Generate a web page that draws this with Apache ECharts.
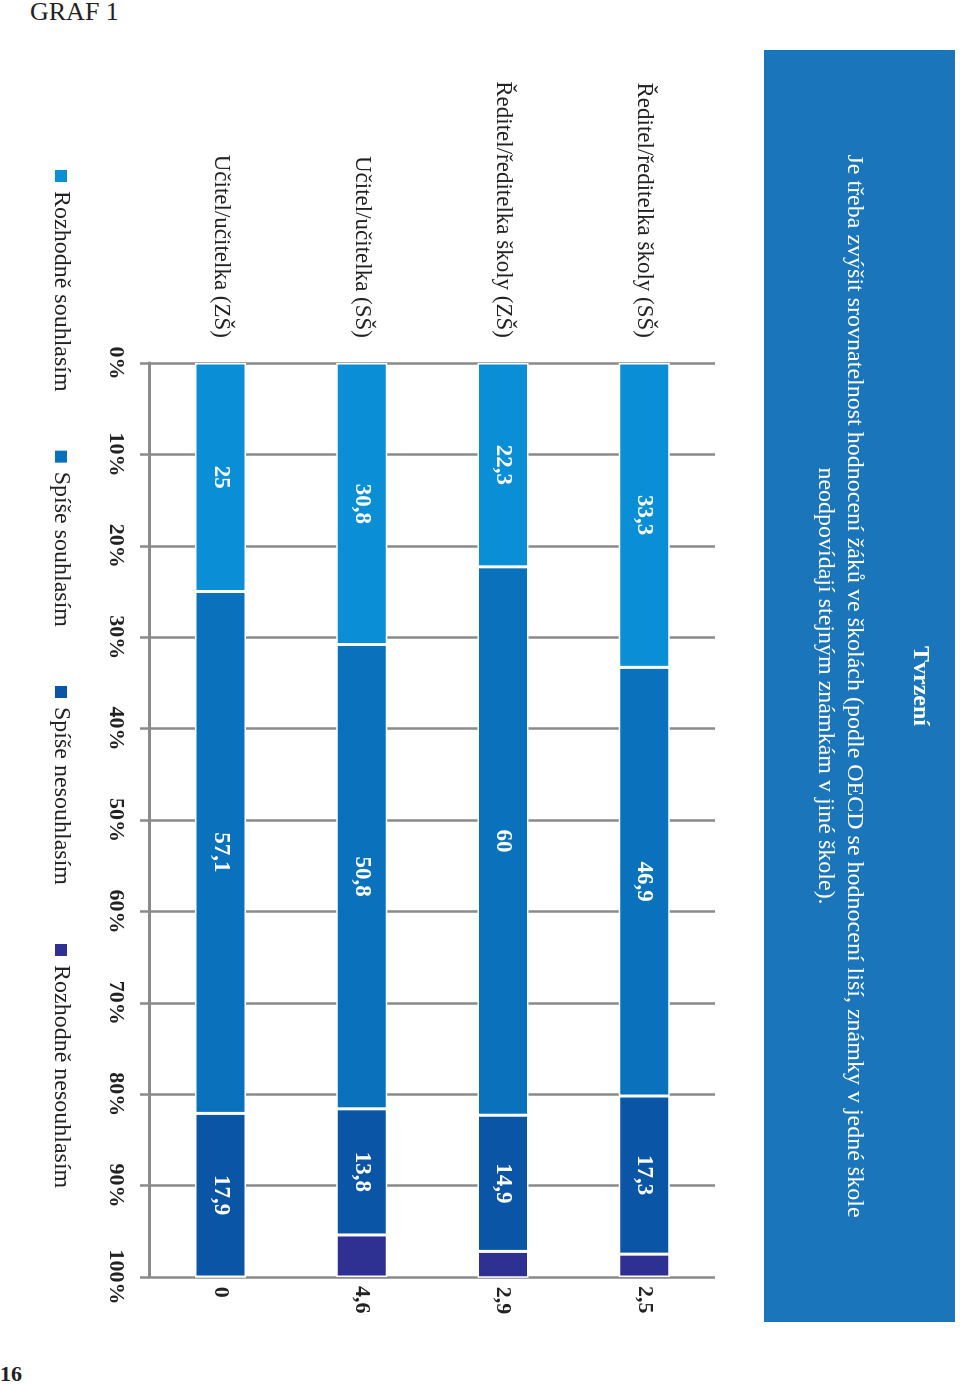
<!DOCTYPE html>
<html>
<head>
<meta charset="utf-8">
<script src="https://cdn.jsdelivr.net/npm/echarts@6/dist/echarts.min.js"></script>
<style>
  html, body { margin: 0; padding: 0; width: 960px; height: 1385px; overflow: hidden; background: #fff; }
  #chart { position: absolute; left: 0; top: 0; width: 1385px; height: 960px;
           transform-origin: 0 0; transform: translateX(960px) rotate(90deg); }
  .graf { position: absolute; left: 30px; top: -3px; font-family: 'Liberation Serif', 'DejaVu Serif', serif; font-size: 26px; color: #222; }
  .page { position: absolute; left: 0px; top: 1361px; font-family: 'Liberation Serif', 'DejaVu Serif', serif; font-size: 22px; font-weight: bold; color: #222; }
</style>
</head>
<body>
<div class="graf">GRAF 1</div>
<div class="page">16</div>
<div id="chart"></div>
<script>
const categories = ['Ředitel/ředitelka školy (SŠ)', 'Ředitel/ředitelka školy (ZŠ)', 'Učitel/učitelka (SŠ)', 'Učitel/učitelka (ZŠ)'];
const seriesNames = ['Rozhodně souhlasím', 'Spíše souhlasím', 'Spíše nesouhlasím', 'Rozhodně nesouhlasím'];
const rozhodneSouhlasim = [33.3, 22.3, 30.8, 25];
const spiseSouhlasim = [46.9, 60, 50.8, 57.1];
const spiseNesouhlasim = [17.3, 14.9, 13.8, 17.9];
const rozhodneNesouhlasim = [2.5, 2.9, 4.6, 0];
const titleText = 'Tvrzení';
const statementText = 'Je třeba zvýšit srovnatelnost hodnocení žáků ve školách (podle OECD se hodnocení liší, známky v jedné škole\nneodpovídají stejným známkám v jiné škole).';

const FONT = "'Liberation Serif', 'DejaVu Serif', serif";
const colors = ['#0A8FD6', '#0A72BC', '#0A55A5', '#2E3192'];
const fmt = p => String(p.value).replace('.', ',');

const chart = echarts.init(document.getElementById('chart'), null, { width: 1385, height: 960 });
const dataSets = [rozhodneSouhlasim, spiseSouhlasim, spiseNesouhlasim, rozhodneNesouhlasim];

chart.setOption({
  animation: false,
  textStyle: { fontFamily: FONT },
  grid: { left: 363, right: 108, top: 245, bottom: 150 },
  legend: {
    data: seriesNames,
    left: 163, top: 882,
    itemWidth: 14, itemHeight: 14, itemGap: 57,
    icon: 'rect',
    textStyle: { fontFamily: FONT, fontSize: 24, color: '#222', padding: [0, 0, 0, 3] }
  },
  xAxis: {
    type: 'value', min: 0, max: 100, interval: 10,
    axisLine: { show: true, lineStyle: { color: '#8a8a8a', width: 3 } },
    axisTick: { show: true, length: 10, lineStyle: { color: '#8a8a8a', width: 2.5 } },
    splitLine: { show: true, lineStyle: { color: '#8a8a8a', width: 2.5 } },
    axisLabel: { formatter: '{value}%', fontFamily: FONT, fontSize: 22, fontWeight: 'bold', color: '#222', margin: 23 }
  },
  yAxis: {
    type: 'category', data: categories, inverse: true,
    axisLine: { show: false }, axisTick: { show: false },
    axisLabel: { fontFamily: FONT, fontSize: 23, color: '#222', margin: 25 }
  },
  graphic: [
    { type: 'rect', shape: { x: 50, y: 5, width: 1272, height: 191 }, style: { fill: '#1B75BB' }, z: 0 },
    { type: 'text', x: 686, y: 40, style: { text: titleText, fill: '#fff', font: "bold 24px " + FONT, textAlign: 'center', textVerticalAlign: 'middle' }, z: 1 },
    { type: 'text', x: 686, y: 120, style: { text: statementText, fill: '#fff', font: "24px " + FONT, textAlign: 'center', textVerticalAlign: 'middle', lineHeight: 29 }, z: 1 }
  ],
  series: dataSets.map((d, i) => ({
    name: seriesNames[i], type: 'bar', stack: 'total', data: d, barWidth: 51,
    itemStyle: { color: colors[i], borderColor: '#fff', borderWidth: 1.5 },
    label: i < 3
      ? { show: true, position: 'inside', formatter: fmt, color: '#fff', fontFamily: FONT, fontSize: 23, fontWeight: 'bold' }
      : { show: true, position: 'right', distance: 9, formatter: fmt, color: '#222', fontFamily: FONT, fontSize: 22, fontWeight: 'bold' }
  }))
});
</script>
</body>
</html>
